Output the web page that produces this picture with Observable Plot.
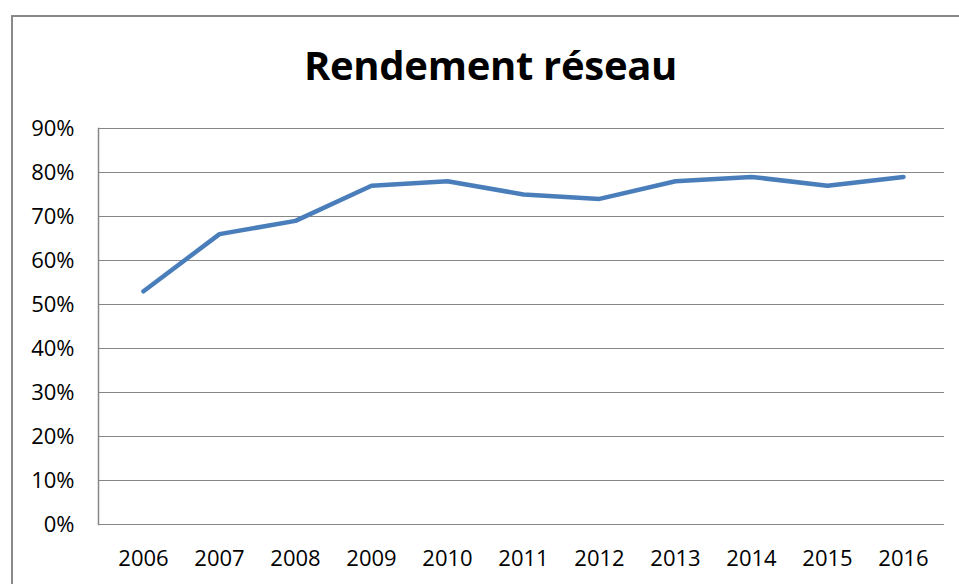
<!DOCTYPE html>
<html>
<head>
<meta charset="utf-8">
<script src="https://cdn.jsdelivr.net/npm/d3@7"></script>
<script src="https://cdn.jsdelivr.net/npm/@observablehq/plot@0.6"></script>
<style>
  html, body { margin: 0; padding: 0; background: #fff; overflow: hidden; }
  #page { position: relative; width: 959px; height: 584px; overflow: hidden; font-family: "Open Sans", sans-serif; }
  #border { position: absolute; left: 11px; top: 15px; width: 1000px; height: 1000px; border: 2px solid #898989; box-sizing: border-box; }
  #title { position: absolute; left: 0; width: 981px; top: 45px; text-align: center; font-size: 40px; font-weight: bold; line-height: 1; color: #000; letter-spacing: -0.3px; }
  #chart { position: absolute; left: 0; top: 100px; }
</style>
</head>
<body>
<div id="page">
  <div id="border"></div>
  <div id="title">Rendement réseau</div>
  <div id="chart"></div>
</div>
<script>
const years = ["2006","2007","2008","2009","2010","2011","2012","2013","2014","2015","2016"];
const rendement = [53, 66, 69, 77, 78, 75, 74, 78, 79, 77, 79];
const yTicks = [0, 10, 20, 30, 40, 50, 60, 70, 80, 90];

const data = years.map((y, i) => ({year: y, value: rendement[i]}));

const chart = Plot.plot({
  width: 959,
  height: 484,
  marginLeft: 98,
  marginRight: 15,
  marginTop: 28,
  marginBottom: 60,
  style: {fontFamily: "Open Sans, sans-serif", fontSize: "22px", color: "#000", background: "transparent"},
  x: {type: "point", domain: years, range: [102, 943], padding: 0.5, label: null, tickSize: 0, tickPadding: 26},
  y: {domain: [0, 90], ticks: yTicks, tickFormat: d => d + "%", label: null, tickSize: 0, tickPadding: 24},
  marks: [
    Plot.ruleY(yTicks, {stroke: "#878787", strokeWidth: 1, strokeOpacity: 1}),
    Plot.frame({anchor: "left", stroke: "#878787", strokeWidth: 1.5, strokeOpacity: 1}),
    Plot.line(data, {x: "year", y: "value", stroke: "#4a7ebb", strokeWidth: 4.5, strokeLinejoin: "round"})
  ]
});
document.getElementById("chart").appendChild(chart);
</script>
</body>
</html>
